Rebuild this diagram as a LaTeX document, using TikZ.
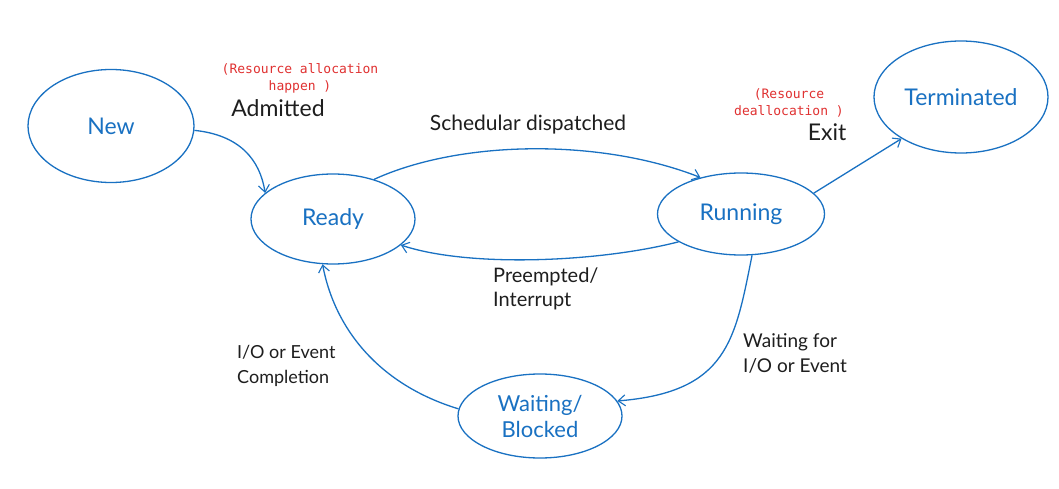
\documentclass[tikz,border=0pt]{standalone}
\usepackage{fontspec}
\setmainfont{Lato}
\newfontfamily\notefont{DejaVu Sans Mono}
\usetikzlibrary{shapes.geometric, arrows.meta}
\definecolor{stateblue}{HTML}{1971C2}
\definecolor{notered}{HTML}{E03131}
\definecolor{inkgray}{HTML}{1E1E1E}
\tikzset{
  state/.style={ellipse, draw=stateblue, line width=1.3pt, text=stateblue, inner sep=0pt, font=\fontsize{23}{26}\selectfont},
  trans/.style={draw=stateblue, line width=1.3pt, -{Straight Barb[length=7pt, width=11pt, line width=1.1pt]}},
  lbl/.style={text=inkgray, font=\fontsize{21}{24}\selectfont, inner sep=0pt},
  note/.style={text=notered, font=\notefont\fontsize{13}{17}\selectfont, align=center, inner sep=0pt}
}
\begin{document}
\begin{tikzpicture}[x=1pt, y=-1pt]
    \useasboundingbox[fill=white] (0,0) rectangle (1059,489);
    % States:
    \node[state, minimum width=166pt, minimum height=113pt] (new) at (111,126) {New};
    \node[state, minimum width=164pt, minimum height=90pt] (ready) at (333,219) {Ready};
    \node[state, minimum width=167pt, minimum height=82pt] (running) at (741,214) {Running};
    \node[state, minimum width=174pt, minimum height=112pt] (terminated) at (961,97) {Terminated};
    \node[state, minimum width=164pt, minimum height=84pt, align=center, font=\fontsize{22}{26}\selectfont] (waiting) at (540,416) {Waiting/\\Blocked};

    % Transitions:
    \draw[trans] (new.-3) .. controls (240,135) and (260,160) .. (ready.159);
    \draw[trans] (ready.44) .. controls (460,140) and (600,138) .. (running.138);
    \draw[trans] (running.204) .. controls (600,262) and (470,268) .. (ready.339);
    \draw[trans] (running.16) -- (terminated.215);
    \draw[trans] (running.285) .. controls (735,340) and (728,392) .. (waiting.11);
    \draw[trans] (waiting.175) .. controls (380,385) and (335,330) .. (ready.257);

    % Labels:
    \node[note] (allocnote) at (300,78) {(Resource allocation\\happen )};
    \node[lbl, font=\fontsize{23}{24}\selectfont] (admitted) at (278,108) {Admitted};
    \node[lbl] (dispatched) at (528,125) {Schedular dispatched};
    \node[note] (deallocnote) at (789,103) {(Resource\\deallocation )};
    \node[lbl, font=\fontsize{23}{24}\selectfont] (exit) at (827,132) {Exit};
    \node[lbl, align=left, anchor=west, font=\fontsize{20}{24}\selectfont] (preempted) at (493,289) {Preempted/\\Interrupt};
    \node[lbl, align=left, anchor=west, font=\fontsize{19}{25}\selectfont] (waitfor) at (743,353) {Waiting for\\I/O or Event};
    \node[lbl, align=left, anchor=west, font=\fontsize{18}{25}\selectfont] (completion) at (237,366) {I/O or Event\\Completion};
\end{tikzpicture}
\end{document}
